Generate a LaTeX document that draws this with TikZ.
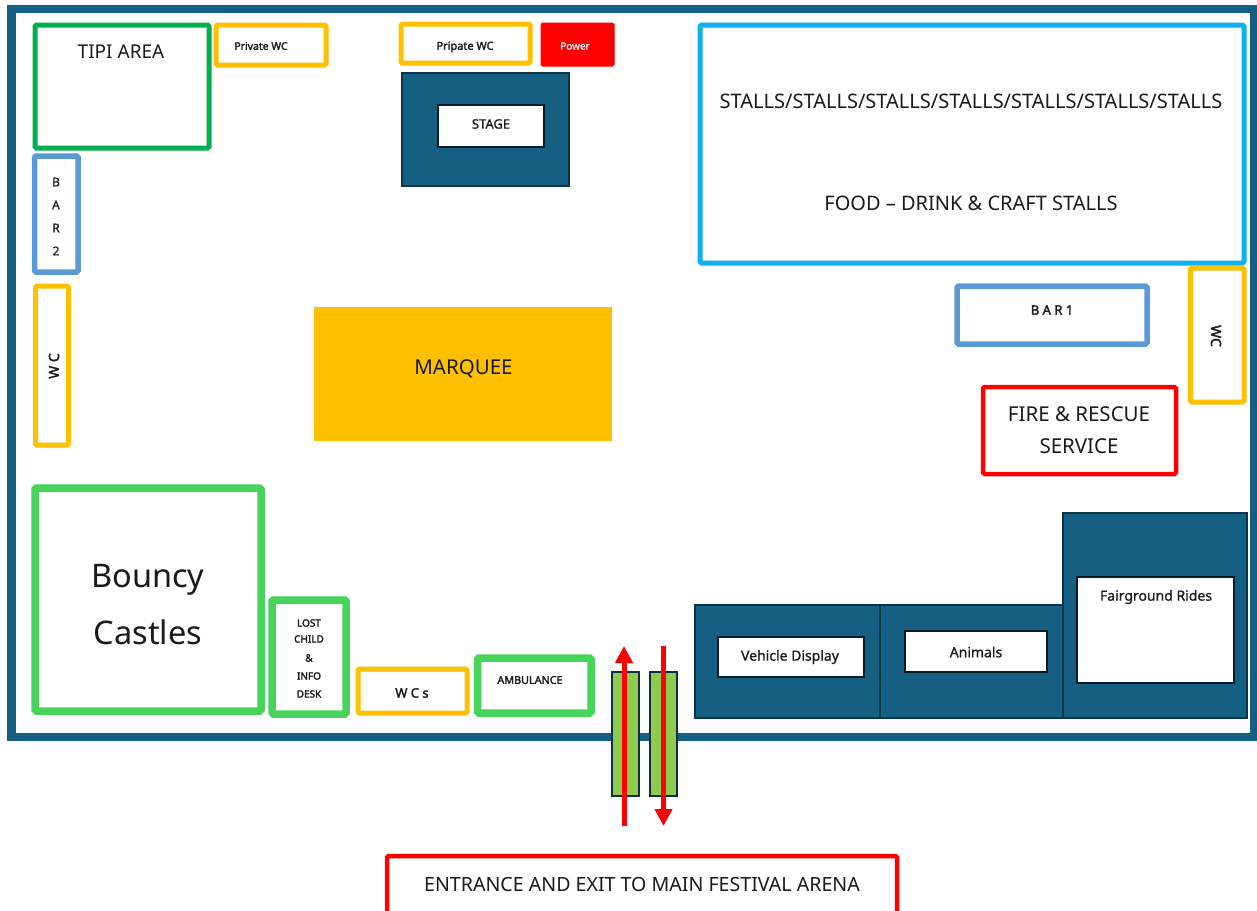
\documentclass[tikz,border=0pt]{standalone}
\usepackage{fontspec}
\setmainfont{Noto Sans}
\newfontfamily\heavy[FakeBold=2.2]{Noto Sans}
\newfontfamily\semi[FakeBold=0.9]{Noto Sans}
\usetikzlibrary{arrows.meta}
\definecolor{navy}{HTML}{156082}
\definecolor{amber}{HTML}{FFC000}
\definecolor{lime}{HTML}{47D45A}
\definecolor{tipi}{HTML}{00B050}
\definecolor{barblue}{HTML}{5B9BD5}
\definecolor{sky}{HTML}{0FB0F0}
\definecolor{gate}{HTML}{8FCB4C}
\definecolor{ink}{HTML}{1A1A1A}
\tikzset{
  box/.style={rectangle,inner sep=0pt,outer sep=0pt,rounded corners=1.5pt},
  amberbox/.style={box,draw=amber,line width=5pt},
  limebox/.style={box,draw=lime,line width=7.5pt},
  tipibox/.style={box,draw=tipi,line width=5pt},
  bluebox/.style={box,draw=barblue,line width=5.5pt},
  skybox/.style={box,draw=sky,line width=5pt},
  redbox/.style={box,draw=red,line width=4.5pt},
  powerbox/.style={box,fill=red,draw=red,line width=1pt},
  zone/.style={rectangle,inner sep=0pt,outer sep=0pt,fill=navy,draw=navy!55!black,line width=1.2pt},
  panel/.style={rectangle,inner sep=0pt,outer sep=0pt,fill=white,draw=navy!30!black,line width=1.8pt},
  gatebox/.style={rectangle,inner sep=0pt,outer sep=0pt,fill=gate,draw=navy!50!black,line width=1.2pt},
  marqueebox/.style={rectangle,inner sep=0pt,outer sep=0pt,fill=amber},
  frame/.style={rectangle,inner sep=0pt,outer sep=0pt,draw=navy,line width=8.5pt},
  lbl/.style={inner sep=0pt,text=ink,align=center},
  flow/.style={draw=red,line width=5pt,-{Triangle[length=17pt,width=17pt]}}
}
\newcommand{\bx}[7][]{%
  \node[#3,anchor=north west,minimum width={(#6-#4)*1pt},minimum height={(#7-#5)*1pt}] (#2) at (#4,#5) {};}
\newcommand{\tx}[6][]{%
  \node[lbl,#1] (#2) at (#3,#4) {\fontsize{#5}{#5}\selectfont #6};}
\begin{document}
\begin{tikzpicture}[x=1pt,y=-1pt]
\useasboundingbox (0,0) rectangle (1257,910);
\fill[white] (0,0) rectangle (1257,910);
\bx{outer}{frame}{11.5}{9}{1254}{737}
\bx{tipibx}{tipibox}{35}{25}{209}{148}
\bx{pwc}{amberbox}{216}{25}{326}{65}
\bx{pwcb}{amberbox}{401}{24}{530}{63}
\bx{power}{powerbox}{541}{23}{614}{66}
\bx{stagezone}{zone}{402}{73}{569}{186}
\bx{stagepanel}{panel}{438}{105}{544}{147}
\bx{bartwo}{bluebox}{34.5}{156}{78}{272}
\bx{wcleft}{amberbox}{35.5}{286}{68.5}{445}
\bx{marquee}{marqueebox}{314}{307}{612}{441}
\bx{bouncy}{limebox}{35}{488}{261}{711}
\bx{lost}{limebox}{272}{600}{346}{714}
\bx{wcs}{amberbox}{358}{669}{467}{713}
\bx{amb}{limebox}{477.5}{658}{591}{713}
\bx{stalls}{skybox}{700}{25}{1244}{263}
\bx{barone}{bluebox}{957}{286}{1147}{344}
\bx{wcright}{amberbox}{1190.5}{268}{1244}{402}
\bx{fire}{redbox}{983}{387}{1176}{474}
\bx{vehzone}{zone}{695}{605}{880}{718}
\bx{anizone}{zone}{880}{605}{1063}{718}
\bx{fairzone}{zone}{1063}{513}{1247}{718}
\bx{vehpanel}{panel}{718}{637}{864}{677}
\bx{anipanel}{panel}{905}{631}{1047}{672}
\bx{fairpanel}{panel}{1077}{577}{1234}{683}
\bx{gatea}{gatebox}{612}{672}{639}{796}
\bx{gateb}{gatebox}{650}{672}{677}{796}
\bx{entrance}{redbox}{387}{856}{897}{914}
% labels
\tx{ttipi}{121}{52}{19}{TIPI AREA}
\tx{tpwc}{261}{46}{10.5}{\heavy Private WC}
\tx{tpwcb}{465}{47}{11}{\heavy Pripate WC}
\tx[text=white]{tpower}{575}{46}{10}{\semi Power}
\tx{tstage}{491}{124}{13}{\semi STAGE}
\tx{tb}{56}{182}{12}{\semi B}
\tx{ta}{56}{205}{12}{\semi A}
\tx{tr}{56}{228}{12}{\semi R}
\tx{ttwo}{56}{251}{12}{\semi 2}
\tx[rotate=90]{twcl}{54}{366}{14}{\heavy W C}
\tx{tmarquee}{463.5}{369}{20.5}{MARQUEE}
\tx{tbouncya}{148}{580}{32.5}{Bouncy}
\tx{tbouncyb}{148}{632}{32.5}{Castles}
\tx{tlosta}{309}{623}{10}{\heavy LOST}
\tx{tlostb}{309}{639}{10}{\heavy CHILD}
\tx{tlostc}{309}{658}{10}{\heavy \&}
\tx{tlostd}{309}{676}{10}{\heavy INFO}
\tx{tloste}{309}{694}{10}{\heavy DESK}
\tx{twcs}{412}{693}{13}{\heavy W C s}
\tx{tamb}{530}{680}{10.8}{\heavy AMBULANCE}
\tx{tstallsa}{971}{101}{20}{STALLS/STALLS/STALLS/STALLS/STALLS/STALLS/STALLS}
\tx{tstallsb}{971}{203}{20}{FOOD – DRINK \& CRAFT STALLS}
\tx{tbarone}{1052}{310}{13}{\heavy B A R 1}
\tx[rotate=-90]{twcr}{1216}{336}{14}{\heavy WC}
\tx{tfirea}{1079}{414}{20.5}{FIRE \& RESCUE}
\tx{tfireb}{1079}{446}{20.5}{SERVICE}
\tx{tveh}{790}{657}{14}{\semi Vehicle Display}
\tx{tani}{976}{652}{14}{\semi Animals}
\tx{tfair}{1156}{597}{14}{\semi Fairground Rides}
\tx{tent}{642}{884}{19.6}{ENTRANCE AND EXIT TO MAIN FESTIVAL ARENA}
% flow arrows
\coordinate (upfrom) at (624,826);
\coordinate (upto) at (624,646);
\coordinate (downfrom) at (663.5,646);
\coordinate (downto) at (663.5,826);
\draw[flow] (upfrom) -- (upto);
\draw[flow] (downfrom) -- (downto);
\end{tikzpicture}
\end{document}
